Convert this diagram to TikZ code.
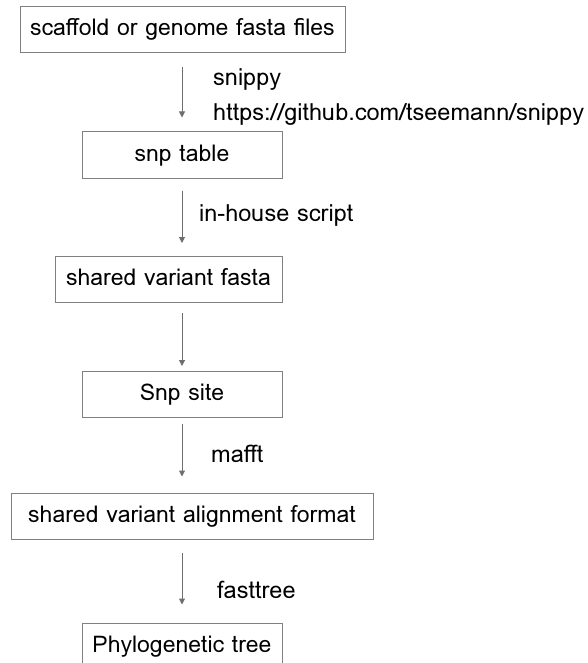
\documentclass[tikz,border=0pt]{standalone}
\usepackage{fontspec}
\setmainfont{Loma}
\usetikzlibrary{arrows.meta}
\definecolor{boxgray}{HTML}{808080}
\definecolor{arrowgray}{HTML}{6E6E6E}

\begin{document}
\begin{tikzpicture}[x=1pt, y=-1pt,
        stepbox/.style={draw=boxgray, line width=1pt, minimum height=46pt,
            inner sep=0pt, text height=16pt, text depth=4pt,
            font=\fontsize{23}{27}\selectfont},
        flow/.style={draw=arrowgray, line width=1pt,
            -{Triangle[length=6pt, width=6pt]}},
        tool/.style={anchor=base west, inner sep=0pt, font=\fontsize{23.5}{27}\selectfont}]
    \useasboundingbox (0, 0) rectangle (587, 663);
    % boxes
    \node[stepbox, minimum width=325pt] (scaffold) at (182.5, 30) {scaffold or genome fasta files};
    \node[stepbox, minimum width=200pt] (snptable) at (182, 155) {snp table};
    \node[stepbox, minimum width=227pt] (sharedfasta) at (168.5, 279.5) {shared variant fasta};
    \node[stepbox, minimum width=200pt] (snpsite) at (182, 394.5) {Snp site};
    \node[stepbox, minimum width=362pt] (alignment) at (192, 516) {shared variant alignment format};
    \node[stepbox, minimum width=200pt] (tree) at (182, 646) {Phylogenetic tree};
    % arrows
    \draw[flow, shorten <=14pt, shorten >=14pt] (scaffold.south -| snptable) -- (snptable.north);
    \draw[flow, shorten <=12pt, shorten >=13pt] (snptable.south) -- (sharedfasta.north -| snptable);
    \draw[flow, shorten <=10pt, shorten >=5pt] (sharedfasta.south -| snpsite) -- (snpsite.north);
    \draw[flow, shorten <=6pt, shorten >=16pt] (snpsite.south) -- (alignment.north -| snpsite);
    \draw[flow, shorten <=13pt, shorten >=18pt] (alignment.south -| tree) -- (tree.north);
    % tools
    \node[tool] (snippy) at (213, 86) {snippy};
    \node[tool] (url) at (213, 121) {https://github.com/tseemann/snippy};
    \node[tool] (inhouse) at (199, 221) {in-house script};
    \node[tool] (mafft) at (211, 462) {mafft};
    \node[tool] (fasttree) at (217, 598) {fasttree};
\end{tikzpicture}
\end{document}
